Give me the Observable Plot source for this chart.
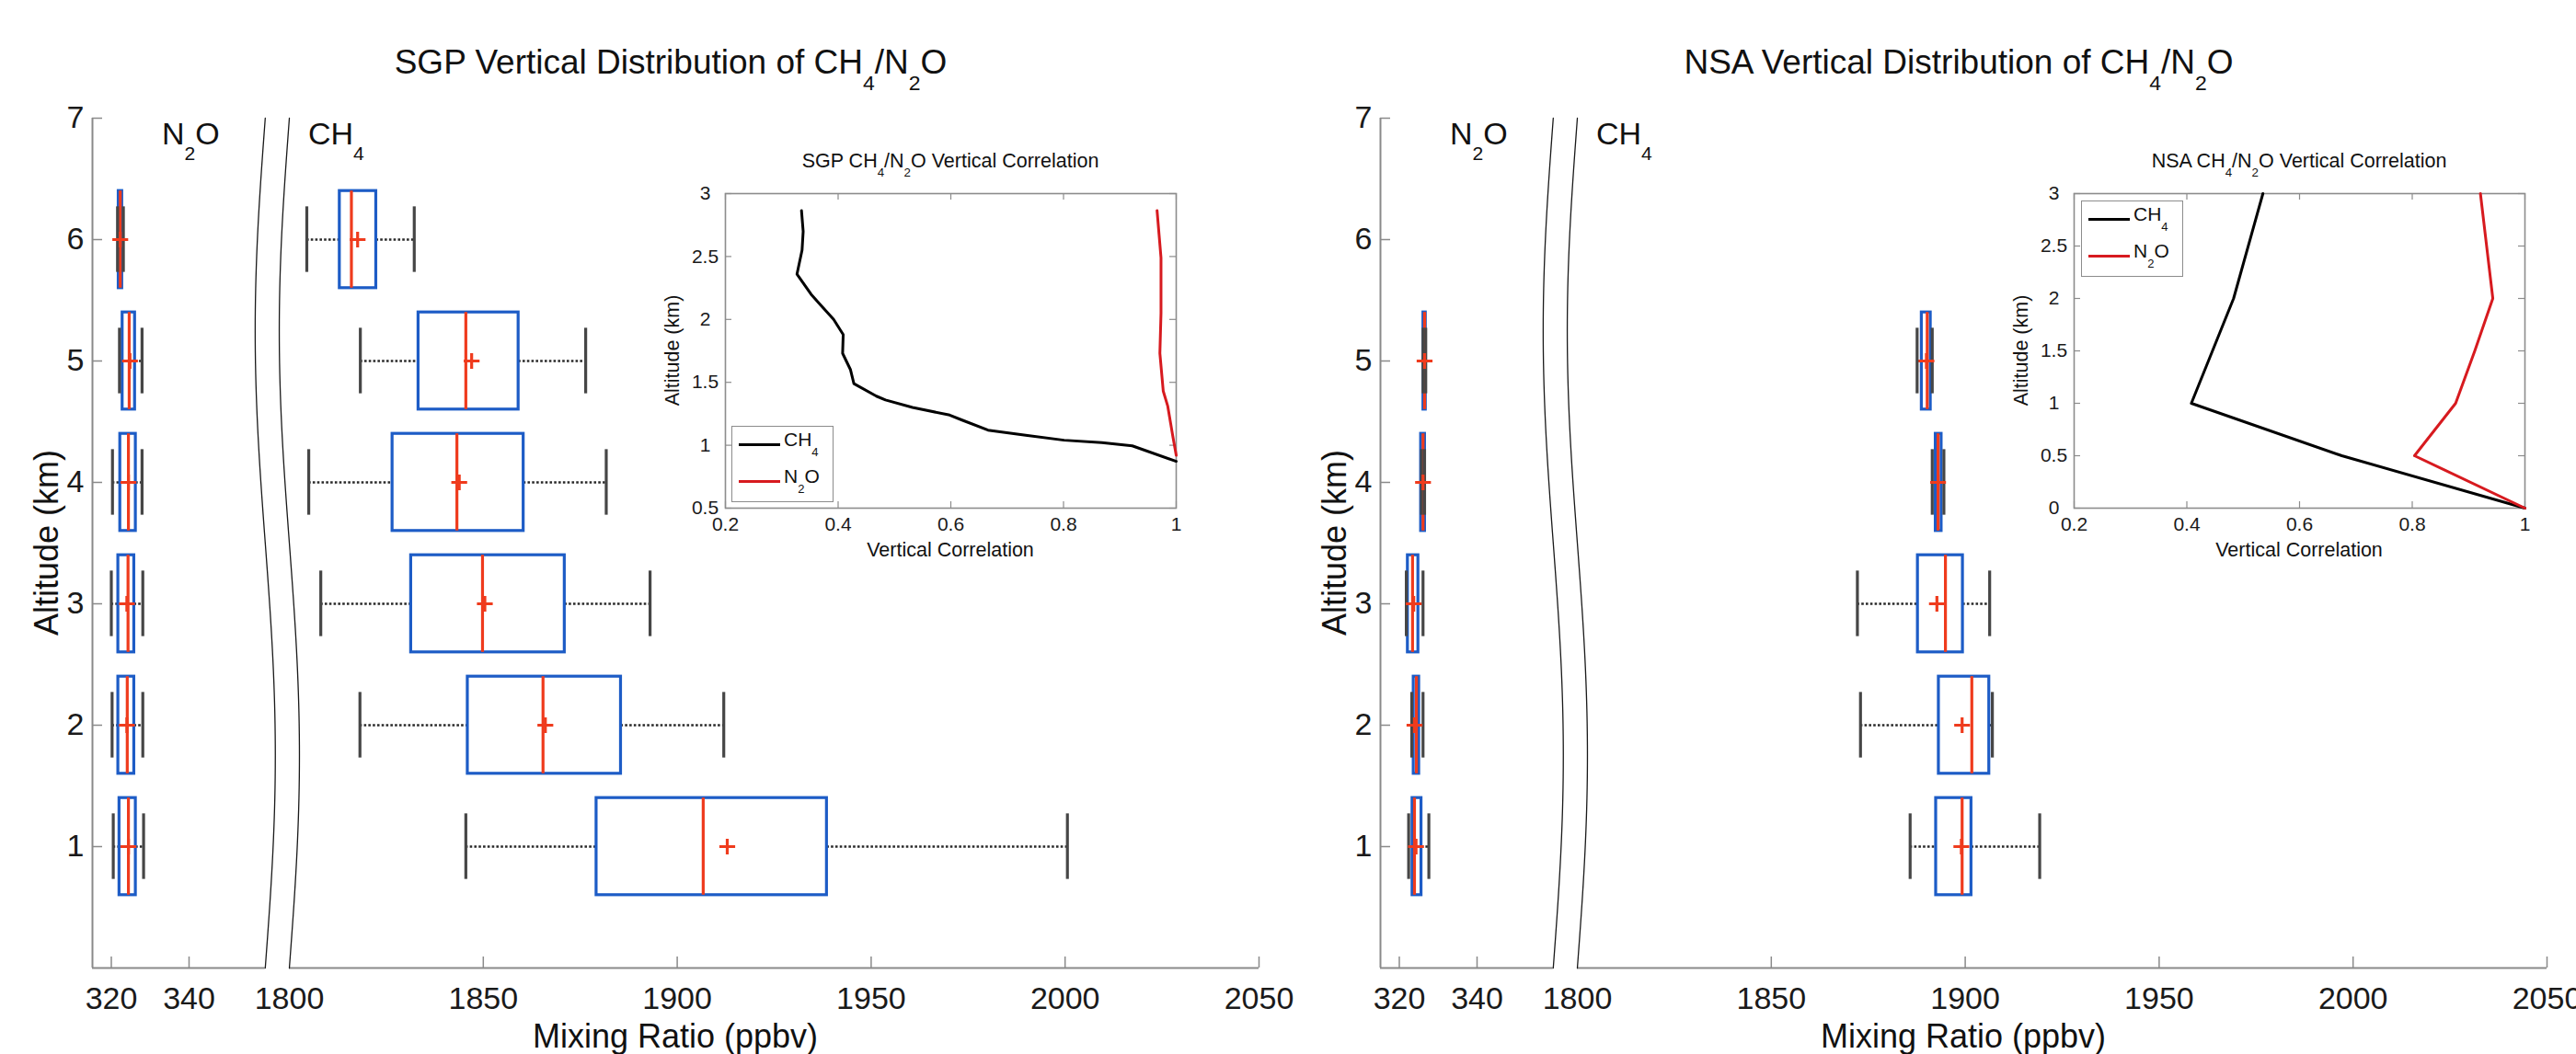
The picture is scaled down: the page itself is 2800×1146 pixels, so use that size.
<!DOCTYPE html>
<html><head><meta charset="utf-8">
<script src="https://cdn.jsdelivr.net/npm/d3@7"></script>
<script src="https://cdn.jsdelivr.net/npm/@observablehq/plot@0.6"></script>
<style>
html,body{margin:0;padding:0;background:#fff;}
#root{position:relative;width:2800px;height:1146px;overflow:hidden;font-family:"Liberation Sans",Arial,Helvetica,sans-serif;color:#111;background:#fff;}
.t{position:absolute;white-space:nowrap;line-height:1;}
.t sub{font-size:0.62em;vertical-align:baseline;position:relative;top:0.8em;line-height:0;}
.abs{position:absolute;}
.lg{position:absolute;box-sizing:border-box;border:1.5px solid #8c8c8c;background:#fff;}
.sw{position:absolute;height:3px;}
</style></head><body><div id="root"></div>
<script>
// ---------------- data ----------------
const sgpAltitudes = [1, 2, 3, 4, 5, 6];
// SGP CH4 (ppbv): whisker low, Q1, median, mean, Q3, whisker high
const sgpCH4Lo   = [1845.5, 1818.2, 1808.1, 1805.0, 1818.3, 1804.5];
const sgpCH4Q1   = [1879.2, 1846.0, 1831.4, 1826.6, 1833.3, 1813.0];
const sgpCH4Med  = [1906.7, 1865.4, 1849.8, 1843.2, 1845.5, 1816.0];
const sgpCH4Mean = [1912.9, 1866.0, 1850.4, 1843.8, 1847.0, 1817.6];
const sgpCH4Q3   = [1938.6, 1885.5, 1871.0, 1860.4, 1859.1, 1822.4];
const sgpCH4Hi   = [2000.6, 1912.0, 1893.0, 1881.7, 1876.4, 1832.2];
// SGP N2O (ppbv)
const sgpN2OLo   = [320.5, 320.2, 320.0, 320.3, 322.1, 321.6];
const sgpN2OQ1   = [322.1, 321.8, 321.8, 322.3, 322.9, 321.9];
const sgpN2OMed  = [324.4, 324.1, 324.3, 324.4, 324.6, 322.3];
const sgpN2OMean = [324.4, 324.0, 324.0, 324.4, 324.8, 322.3];
const sgpN2OQ3   = [326.3, 325.9, 325.9, 326.3, 326.1, 322.8];
const sgpN2OHi   = [328.3, 328.1, 328.1, 327.9, 327.9, 323.1];

const nsaAltitudes = [1, 2, 3, 4, 5];
// NSA CH4 (ppbv)
const nsaCH4Lo   = [1885.8, 1873.0, 1872.2, 1891.5, 1887.6];
const nsaCH4Q1   = [1892.5, 1893.2, 1887.8, 1892.4, 1888.8];
const nsaCH4Med  = [1899.2, 1901.7, 1894.9, 1893.0, 1890.2];
const nsaCH4Mean = [1899.0, 1899.2, 1892.7, 1893.0, 1890.0];
const nsaCH4Q3   = [1901.6, 1906.2, 1899.4, 1893.9, 1891.1];
const nsaCH4Hi   = [1919.2, 1907.0, 1906.3, 1894.5, 1891.5];
// NSA N2O (ppbv)
const nsaN2OLo   = [322.4, 323.2, 321.8, 325.7, 326.1];
const nsaN2OQ1   = [323.4, 323.7, 322.2, 325.6, 326.2];
const nsaN2OMed  = [323.9, 324.4, 323.4, 326.1, 326.5];
const nsaN2OMean = [324.3, 323.9, 323.7, 326.1, 326.5];
const nsaN2OQ3   = [325.7, 325.1, 324.9, 326.6, 326.8];
const nsaN2OHi   = [327.6, 326.1, 326.1, 326.5, 326.8];

// Inset: vertical correlation profiles
const sgpCorrCH4Alt = [2.865, 2.70, 2.55, 2.36, 2.20, 2.12, 2.00, 1.88, 1.73, 1.60, 1.49, 1.39, 1.36, 1.30, 1.24, 1.20, 1.12, 1.08, 1.04, 1.02, 0.995, 0.872];
const sgpCorrCH4    = [0.335, 0.338, 0.336, 0.327, 0.352, 0.368, 0.392, 0.409, 0.408, 0.422, 0.428, 0.468, 0.484, 0.532, 0.598, 0.620, 0.666, 0.733, 0.801, 0.868, 0.922, 1.0];
const sgpCorrN2OAlt = [2.865, 2.49, 2.05, 1.73, 1.43, 1.31, 1.07, 0.92];
const sgpCorrN2O    = [0.966, 0.973, 0.973, 0.971, 0.977, 0.985, 0.994, 1.0];
const nsaCorrCH4Alt = [0, 0.5, 1, 2, 3];
const nsaCorrCH4    = [1.0, 0.675, 0.408, 0.483, 0.535];
const nsaCorrN2OAlt = [0, 0.5, 1, 1.5, 2, 3];
const nsaCorrN2O    = [1.0, 0.804, 0.877, 0.911, 0.943, 0.921];

// axis / tick definitions
const altTicks = [1, 2, 3, 4, 5, 6, 7];
const xTickLabels = [320, 340, 1800, 1850, 1900, 1950, 2000, 2050];
const xTickMarks = [320, 340, 1850, 1900, 1950, 2000, 2050];
const n2oAxis = [315.15, 359.6];
const ch4Axis = [1800, 2050];
const corrTicks = [0.2, 0.4, 0.6, 0.8, 1];
const sgpInsetAltTicks = [0.5, 1, 1.5, 2, 2.5, 3];
const nsaInsetAltTicks = [0, 0.5, 1, 1.5, 2, 2.5, 3];

// ---------------- styles ----------------
const FONT = '"Liberation Sans", Arial, Helvetica, sans-serif';
const BLUE = "#1d5cc6", RED = "#ef3b1d", CAP = "#464646", WHISK = "#2a2a2a", AX = "#8a8a8a";
const BOX_HALF = 0.4, CAP_HALF = 0.27;

const root = document.getElementById("root");

function rows(alts, lo, q1, med, mean, q3, hi) {
  return alts.map((a, i) => ({alt: a, lo: lo[i], q1: q1[i], med: med[i], mean: mean[i], q3: q3[i], hi: hi[i]}));
}
function profile(alts, vals) { return alts.map((a, i) => ({alt: a, corr: vals[i]})); }

// break-mark curves (axis decoration)
const tt = d3.range(0, 1.0001, 1 / 80);
const break1 = tt.map(t => ({y: 7 * (1 - t), x: n2oAxis[1] - 2.59 * Math.sin(2 * Math.PI * t)}));
const break2 = tt.map(t => ({y: 7 * (1 - t), x: ch4Axis[0] - 2.6 * Math.sin(2 * Math.PI * t)}));

function panel(data) {
  const W = 1400, H = 1046, mL = 100, mR = 32, mT = 28, mB = 94;
  const frameH = H - mT - mB, frameW = W - mL - mR;
  return Plot.plot({
    width: W, height: H, marginLeft: mL, marginRight: mR, marginTop: mT, marginBottom: mB,
    x: {type: "linear", domain: [315.15, 362.72, 1797.15, 2050], range: [100, 301, 302, 1368]},
    y: {domain: [0, 7], range: [H - mB, mT]},
    style: {fontFamily: FONT, fontSize: "34px", background: "transparent", color: "#1a1a1a", overflow: "visible"},
    marks: [
      Plot.ruleY([0], {x1: () => n2oAxis[0], x2: () => n2oAxis[1], stroke: AX, strokeWidth: 2}),
      Plot.ruleY([0], {x1: () => ch4Axis[0], x2: () => ch4Axis[1], stroke: AX, strokeWidth: 2}),
      Plot.ruleX([n2oAxis[0]], {y1: () => 0, y2: () => 7, stroke: AX, strokeWidth: 2}),
      Plot.tickX(xTickMarks, {insetTop: frameH - 12, stroke: AX, strokeWidth: 1.5}),
      Plot.tickY(altTicks, {insetRight: frameW - 11, stroke: AX, strokeWidth: 1.5}),
      Plot.line(break1, {x: "x", y: "y", stroke: "#1a1a1a", strokeWidth: 1.3}),
      Plot.line(break2, {x: "x", y: "y", stroke: "#1a1a1a", strokeWidth: 1.3}),
      Plot.ruleY(data, {y: "alt", x1: "lo", x2: "q1", stroke: WHISK, strokeWidth: 2.6, strokeDasharray: "2.6,2.2"}),
      Plot.ruleY(data, {y: "alt", x1: "q3", x2: "hi", stroke: WHISK, strokeWidth: 2.6, strokeDasharray: "2.6,2.2"}),
      Plot.rect(data, {x1: "q1", x2: "q3", y1: d => d.alt - BOX_HALF, y2: d => d.alt + BOX_HALF, fill: "white", stroke: BLUE, strokeWidth: 3.2}),
      Plot.ruleX(data, {x: "med", y1: d => d.alt - BOX_HALF, y2: d => d.alt + BOX_HALF, stroke: RED, strokeWidth: 3.2}),
      Plot.ruleX(data, {x: "lo", y1: d => d.alt - CAP_HALF, y2: d => d.alt + CAP_HALF, stroke: CAP, strokeWidth: 3.2}),
      Plot.ruleX(data, {x: "hi", y1: d => d.alt - CAP_HALF, y2: d => d.alt + CAP_HALF, stroke: CAP, strokeWidth: 3.2}),
      Plot.dot(data, {x: "mean", y: "alt", symbol: "plus", r: 5.6, stroke: RED, strokeWidth: 3.2}),
      Plot.axisX({ticks: xTickLabels, tickSize: 0, tickPadding: 20, tickFormat: d => String(d), fontSize: 34, label: null}),
      Plot.axisY({ticks: altTicks, tickSize: 0, tickPadding: 9, tickFormat: d => String(d), fontSize: 34, label: null})
    ]
  });
}

function inset(ch4, n2o, yDomain, yTicks) {
  const W = 620, H = 470, mL = 88, mR = 42, mT = 60, mB = 68;
  const fW = W - mL - mR, fH = H - mT - mB;
  return Plot.plot({
    width: W, height: H, marginLeft: mL, marginRight: mR, marginTop: mT, marginBottom: mB,
    x: {domain: [0.2, 1]},
    y: {domain: yDomain},
    style: {fontFamily: FONT, fontSize: "21px", background: "white", color: "#1a1a1a", overflow: "visible"},
    marks: [
      Plot.tickX(corrTicks, {insetTop: fH - 7, stroke: "#8c8c8c", strokeWidth: 1.2}),
      Plot.tickX(corrTicks, {insetBottom: fH - 7, stroke: "#8c8c8c", strokeWidth: 1.2}),
      Plot.tickY(yTicks, {insetRight: fW - 7, stroke: "#8c8c8c", strokeWidth: 1.2}),
      Plot.tickY(yTicks, {insetLeft: fW - 7, stroke: "#8c8c8c", strokeWidth: 1.2}),
      Plot.frame({stroke: "#8c8c8c", strokeWidth: 1.6}),
      Plot.line(ch4, {x: "corr", y: "alt", stroke: "#000", strokeWidth: 3}),
      Plot.line(n2o, {x: "corr", y: "alt", stroke: "#d71a1f", strokeWidth: 3}),
      Plot.axisX({ticks: corrTicks, tickSize: 0, tickPadding: 10, tickFormat: d => String(d), fontSize: 21, label: null}),
      Plot.axisY({ticks: yTicks, tickSize: 0, tickPadding: 22, textAnchor: "middle", tickFormat: d => String(d), fontSize: 21, label: null})
    ]
  });
}

function place(el, left, top) {
  const w = document.createElement("div");
  w.className = "abs"; w.style.left = left + "px"; w.style.top = top + "px";
  w.appendChild(el); root.appendChild(w);
}
function txt(html, x, yBase, size, anchor) {
  const d = document.createElement("div");
  d.className = "t"; d.innerHTML = html;
  d.style.fontSize = size + "px";
  d.style.top = (yBase - 0.8465 * size) + "px";
  d.style.left = x + "px";
  if (anchor !== "start") d.style.transform = "translateX(-50%)";
  root.appendChild(d);
}
function vtxt(html, cx, cy, size) {
  const d = document.createElement("div");
  d.className = "t"; d.innerHTML = html;
  d.style.fontSize = size + "px";
  d.style.left = cx + "px"; d.style.top = cy + "px";
  d.style.transform = "translate(-50%,-50%) rotate(-90deg)";
  root.appendChild(d);
}
function legend(x, y) {
  const b = document.createElement("div");
  b.className = "lg";
  b.style.left = x + "px"; b.style.top = y + "px"; b.style.width = "111px"; b.style.height = "83px";
  root.appendChild(b);
  const s1 = document.createElement("div"); s1.className = "sw";
  s1.style.left = (x + 8) + "px"; s1.style.top = (y + 19) + "px"; s1.style.width = "45px"; s1.style.background = "#000";
  root.appendChild(s1);
  const s2 = document.createElement("div"); s2.className = "sw";
  s2.style.left = (x + 8) + "px"; s2.style.top = (y + 59) + "px"; s2.style.width = "45px"; s2.style.background = "#d71a1f";
  root.appendChild(s2);
  txt("CH<sub>4</sub>", x + 57, y + 22, 21, "start");
  txt("N<sub>2</sub>O", x + 57, y + 62, 21, "start");
}

// ---------------- build ----------------
const sgpData = rows(sgpAltitudes, sgpN2OLo, sgpN2OQ1, sgpN2OMed, sgpN2OMean, sgpN2OQ3, sgpN2OHi)
  .concat(rows(sgpAltitudes, sgpCH4Lo, sgpCH4Q1, sgpCH4Med, sgpCH4Mean, sgpCH4Q3, sgpCH4Hi));
const nsaData = rows(nsaAltitudes, nsaN2OLo, nsaN2OQ1, nsaN2OMed, nsaN2OMean, nsaN2OQ3, nsaN2OHi)
  .concat(rows(nsaAltitudes, nsaCH4Lo, nsaCH4Q1, nsaCH4Med, nsaCH4Mean, nsaCH4Q3, nsaCH4Hi));

place(panel(sgpData), 0, 100);
place(panel(nsaData), 1400, 100);
place(inset(profile(sgpCorrCH4Alt, sgpCorrCH4), profile(sgpCorrN2OAlt, sgpCorrN2O), [0.5, 3], sgpInsetAltTicks), 700, 150);
place(inset(profile(nsaCorrCH4Alt, nsaCorrCH4), profile(nsaCorrN2OAlt, nsaCorrN2O), [0, 3], nsaInsetAltTicks), 2166, 150);

for (const [off, site] of [[0, "SGP"], [1400, "NSA"]]) {
  txt(site + " Vertical Distribution of CH<sub>4</sub>/N<sub>2</sub>O", off + 729, 80, 37);
  txt("N<sub>2</sub>O", off + 176, 157, 34, "start");
  txt("CH<sub>4</sub>", off + 335, 157, 34, "start");
  vtxt("Altitude (km)", off + 51, 590, 36);
  txt("Mixing Ratio (ppbv)", off + 734, 1139, 36);
}
const insetSpecs = [[700, "SGP", 795, 463], [2166, "NSA", 2262, 218]];
for (const [L, site, lx, ly] of insetSpecs) {
  txt(site + " CH<sub>4</sub>/N<sub>2</sub>O Vertical Correlation", L + 88 + 245, 183, 21.5);
  txt("Vertical Correlation", L + 88 + 245, 606, 21.5);
  vtxt("Altitude (km)", L + 32, 381, 21.5);
  legend(lx, ly);
}
</script></body></html>
